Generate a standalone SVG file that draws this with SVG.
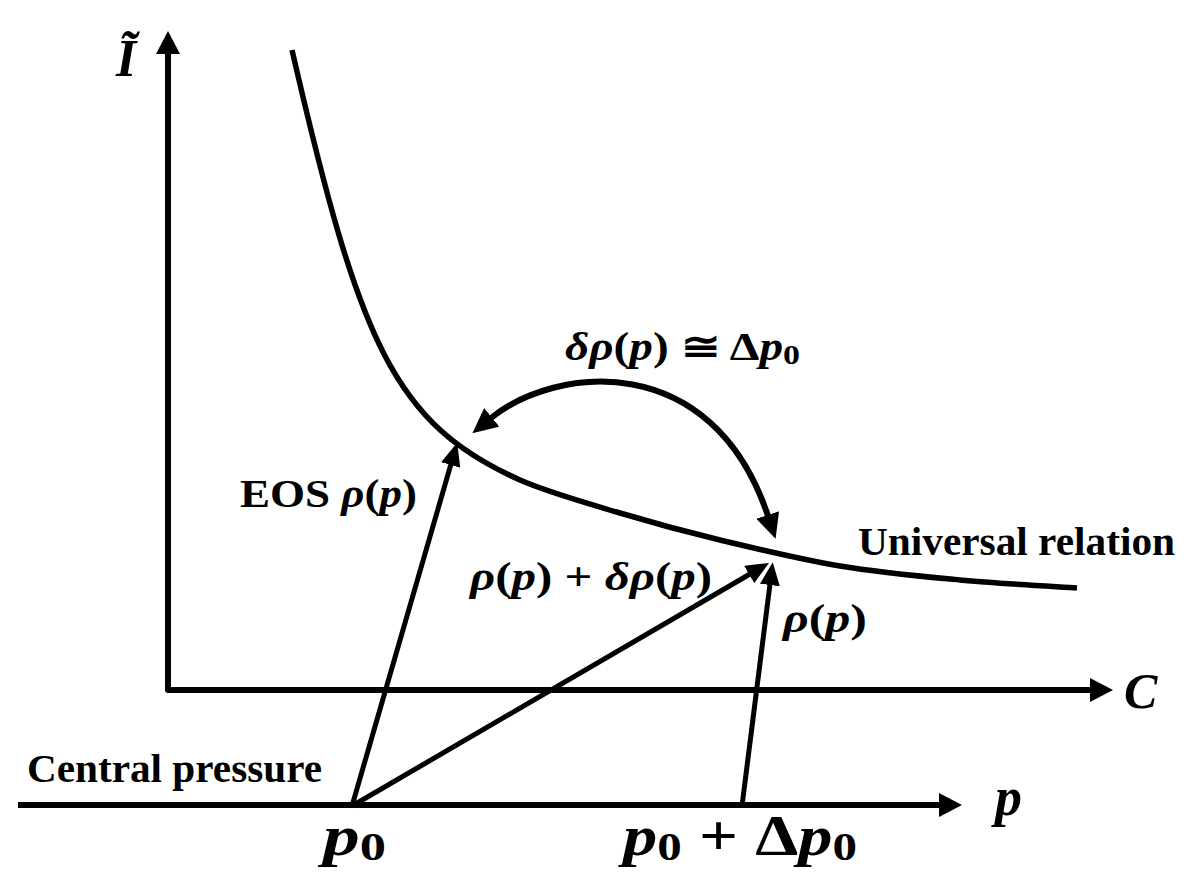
<svg xmlns="http://www.w3.org/2000/svg" width="1201" height="877" viewBox="0 0 1201 877">
<style>
  .ax{fill:none;stroke:#000;stroke-width:6;stroke-linejoin:round}
  .ar{fill:none;stroke:#000;stroke-width:5}
  .cv{fill:none;stroke:#000;stroke-width:5.5}
  text{font-family:"Liberation Serif","Times New Roman",serif;font-weight:bold;fill:#000}
  .it{font-style:italic}
</style>
<defs>
  <marker id="axh" markerUnits="userSpaceOnUse" viewBox="0 0 23 24" refX="1" refY="12" markerWidth="23" markerHeight="24" orient="auto-start-reverse">
    <path d="M0,0 L23,12 L0,24 z" fill="#000"/>
  </marker>
  <marker id="ah" markerUnits="userSpaceOnUse" viewBox="0 0 23 20" refX="1" refY="10" markerWidth="23" markerHeight="20" orient="auto-start-reverse">
    <path d="M0,0 L23,10 L0,20 z" fill="#000"/>
  </marker>
  <marker id="ahc" markerUnits="userSpaceOnUse" viewBox="0 0 25 24" refX="1" refY="12" markerWidth="25" markerHeight="24" orient="auto-start-reverse">
    <path d="M0,0 L25,12 L0,24 z" fill="#000"/>
  </marker>
</defs>

<g id="axes">
  <path class="ax" d="M168,53 L168,690 L1091,690" marker-start="url(#axh)" marker-end="url(#axh)"/>
  <path class="ax" d="M18,805 L940,805" marker-end="url(#axh)"/>
</g>

<g id="universal-curve">
  <path class="cv" d="M292,50 C360,345 394,423.5 520,480 C547.5,492.2 586.7,503 620,513 C653.3,523 683.3,531.2 720,540 C756.7,548.8 800,559.3 840,566 C880,572.7 920.5,576.3 960,580 C999.5,583.7 1057.5,586.7 1077,588"/>
</g>

<g id="connectors">
  <path class="ar" d="M352,806 L451,464" marker-end="url(#ah)"/>
  <path class="ar" d="M352,806 L750,574" marker-end="url(#ah)"/>
  <path class="ar" d="M742,806 L770,584" marker-end="url(#ah)"/>
  <path class="ax" d="M491,418 C555,366 712,348 768,516" marker-start="url(#ahc)" marker-end="url(#ahc)"/>
</g>

<g id="labels">
  <text x="116" y="76" font-size="52" class="it">Ĩ</text>
  <text x="565" y="360" font-size="39" textLength="235" lengthAdjust="spacingAndGlyphs"><tspan class="it">δρ</tspan>(<tspan class="it">p</tspan>) ≅ Δ<tspan class="it">p</tspan><tspan font-size="28" dy="4">0</tspan></text>
  <text x="240" y="507" font-size="40" textLength="177" lengthAdjust="spacingAndGlyphs">EOS <tspan class="it">ρ</tspan>(<tspan class="it">p</tspan>)</text>
  <text x="858" y="555" font-size="40" textLength="317" lengthAdjust="spacingAndGlyphs">Universal relation</text>
  <text x="470" y="590" font-size="40" textLength="242" lengthAdjust="spacingAndGlyphs"><tspan class="it">ρ</tspan>(<tspan class="it">p</tspan>) + <tspan class="it">δρ</tspan>(<tspan class="it">p</tspan>)</text>
  <text x="783" y="632" font-size="40" textLength="84" lengthAdjust="spacingAndGlyphs"><tspan class="it">ρ</tspan>(<tspan class="it">p</tspan>)</text>
  <text x="1124" y="708" font-size="50" class="it">C</text>
  <text x="27" y="782" font-size="40" textLength="295" lengthAdjust="spacingAndGlyphs">Central pressure</text>
  <text x="995" y="815" font-size="54" class="it">p</text>
  <text x="323" y="855" font-size="56" textLength="63" lengthAdjust="spacingAndGlyphs"><tspan class="it">p</tspan><tspan font-size="40" dy="5">0</tspan></text>
  <text x="623" y="855" font-size="56" textLength="234" lengthAdjust="spacingAndGlyphs"><tspan class="it">p</tspan><tspan font-size="40" dy="5">0</tspan><tspan dy="-5"> + Δ</tspan><tspan class="it">p</tspan><tspan font-size="40" dy="5">0</tspan></text>
</g>
</svg>
